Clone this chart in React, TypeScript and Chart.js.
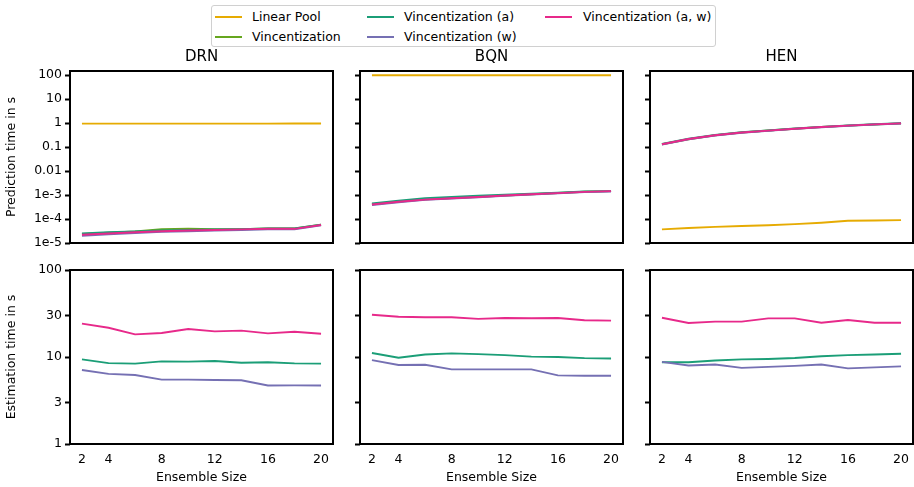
import React, { useEffect, useRef } from "react";
import { Chart, registerables } from "chart.js";

Chart.register(...registerables);
Chart.defaults.font.family = "'DejaVu Sans', sans-serif";
Chart.defaults.font.size = 12.5;
Chart.defaults.color = "#000";

// ---- data ----
const ensembleSizes = [2, 4, 6, 8, 10, 12, 14, 16, 18, 20];
const xTickValues = [2, 4, 8, 12, 16, 20];

const predTickValues = [1e-5, 1e-4, 1e-3, 0.01, 0.1, 1, 10, 100];
const predTickLabels = ["1e-5", "1e-4", "1e-3", "0.01", "0.1", "1", "10", "100"];
const estTickValues = [1, 3, 10, 30, 100];
const estTickLabels = ["1", "3", "10", "30", "100"];

const methodNames = [
  "Linear Pool",
  "Vincentization",
  "Vincentization (a)",
  "Vincentization (w)",
  "Vincentization (a, w)",
];
const methodColors = ["#E6AB02", "#66A61E", "#1B9E77", "#7570B3", "#E7298A"];

const modelNames = ["DRN", "BQN", "HEN"];

// prediction time in s
const drnPredLinearPool = [0.94, 0.94, 0.94, 0.94, 0.94, 0.94, 0.94, 0.94, 0.95, 0.95];
const drnPredVinc = [2.4e-5, 2.7e-5, 3.0e-5, 3.8e-5, 3.9e-5, 3.8e-5, 3.8e-5, 4.0e-5, 4.0e-5, 5.8e-5];
const drnPredVincA = [2.5e-5, 2.8e-5, 3.0e-5, 3.3e-5, 3.5e-5, 3.7e-5, 3.8e-5, 4.0e-5, 4.0e-5, 5.8e-5];
const drnPredVincW = [2.0e-5, 2.3e-5, 2.6e-5, 2.9e-5, 3.1e-5, 3.3e-5, 3.5e-5, 3.7e-5, 3.7e-5, 5.5e-5];
const drnPredVincAW = [2.2e-5, 2.5e-5, 2.8e-5, 3.1e-5, 3.3e-5, 3.5e-5, 3.7e-5, 3.9e-5, 3.9e-5, 5.6e-5];

const bqnPredLinearPool = [98, 98, 98, 98, 98, 98, 98, 98, 98, 98];
const bqnPredVinc = [4.1e-4, 5.3e-4, 6.6e-4, 7.4e-4, 8.4e-4, 9.6e-4, 1.08e-3, 1.21e-3, 1.36e-3, 1.45e-3];
const bqnPredVincA = [4.4e-4, 5.8e-4, 7.4e-4, 8.3e-4, 9.3e-4, 1.02e-3, 1.13e-3, 1.25e-3, 1.42e-3, 1.45e-3];
const bqnPredVincW = [3.8e-4, 5.0e-4, 6.3e-4, 7.1e-4, 8.1e-4, 9.3e-4, 1.05e-3, 1.18e-3, 1.32e-3, 1.4e-3];
const bqnPredVincAW = [4.0e-4, 5.2e-4, 6.4e-4, 7.3e-4, 8.3e-4, 9.5e-4, 1.07e-3, 1.2e-3, 1.35e-3, 1.45e-3];

const henPredLinearPool = [3.7e-5, 4.2e-5, 4.7e-5, 5.1e-5, 5.5e-5, 6.1e-5, 7.0e-5, 8.4e-5, 8.7e-5, 9.0e-5];
const henPredVinc = [0.13, 0.21, 0.31, 0.4, 0.49, 0.58, 0.68, 0.78, 0.87, 0.97];
const henPredVincA = [0.135, 0.22, 0.32, 0.41, 0.49, 0.59, 0.69, 0.79, 0.89, 0.98];
const henPredVincW = [0.125, 0.21, 0.3, 0.39, 0.47, 0.57, 0.67, 0.77, 0.87, 0.96];
const henPredVincAW = [0.13, 0.215, 0.31, 0.4, 0.48, 0.58, 0.68, 0.78, 0.88, 0.97];

// estimation time in s
const drnEstVincA = [9.4, 8.5, 8.4, 8.9, 8.85, 9.0, 8.6, 8.7, 8.45, 8.4];
const drnEstVincW = [7.1, 6.4, 6.2, 5.5, 5.5, 5.45, 5.4, 4.7, 4.72, 4.7];
const drnEstVincAW = [24.2, 21.7, 18.2, 18.9, 21.0, 19.7, 20.1, 18.7, 19.5, 18.5];

const bqnEstVincA = [11.1, 9.8, 10.7, 11.0, 10.8, 10.5, 10.1, 10.0, 9.7, 9.6];
const bqnEstVincW = [9.2, 8.1, 8.15, 7.2, 7.2, 7.2, 7.2, 6.15, 6.1, 6.1];
const bqnEstVincAW = [30.6, 29.0, 28.6, 28.6, 27.4, 28.1, 27.9, 28.1, 26.4, 26.2];

const henEstVincA = [8.7, 8.7, 9.1, 9.4, 9.5, 9.75, 10.2, 10.5, 10.7, 10.9];
const henEstVincW = [8.8, 8.0, 8.2, 7.5, 7.7, 7.9, 8.2, 7.4, 7.6, 7.8];
const henEstVincAW = [28.3, 24.6, 25.5, 25.5, 27.8, 27.8, 24.8, 26.6, 24.8, 24.8];

const predSeries = [
  [drnPredLinearPool, drnPredVinc, drnPredVincA, drnPredVincW, drnPredVincAW],
  [bqnPredLinearPool, bqnPredVinc, bqnPredVincA, bqnPredVincW, bqnPredVincAW],
  [henPredLinearPool, henPredVinc, henPredVincA, henPredVincW, henPredVincAW],
];
// Linear Pool and plain Vincentization have no estimation step
const estSeries = [
  [null, null, drnEstVincA, drnEstVincW, drnEstVincAW],
  [null, null, bqnEstVincA, bqnEstVincW, bqnEstVincAW],
  [null, null, henEstVincA, henEstVincW, henEstVincAW],
];

// ---- layout ----
const plotLefts = [70, 360, 650];
const plotWidth = 263;
const topRow = { top: 71, height: 172, padT: 23, padB: 12 };
const bottomRow = { top: 270, height: 174, padT: 12, padB: 43 };
const padRight = 8;

// black frame around each plot area
const frameBox = {
  id: "frameBox",
  afterDraw(chart: any) {
    const { ctx, chartArea: a } = chart;
    ctx.save();
    ctx.strokeStyle = "#000";
    ctx.lineWidth = 2;
    ctx.strokeRect(a.left, a.top, a.right - a.left, a.bottom - a.top);
    ctx.restore();
  },
};

type PanelProps = {
  col: number;
  row: { top: number; height: number; padT: number; padB: number };
  title?: string;
  series: (number[] | null)[];
  yMin: number;
  yMax: number;
  yTicks: number[];
  yLabels: string[];
  yTitle?: string;
  showX: boolean;
};

function Panel({ col, row, title, series, yMin, yMax, yTicks, yLabels, yTitle, showX }: PanelProps) {
  const ref = useRef<HTMLCanvasElement>(null);
  const padL = col === 0 ? plotLefts[0] : 12;
  const cw = padL + plotWidth + padRight;
  const ch = row.padT + row.height + row.padB;

  useEffect(() => {
    const datasets: any[] = [];
    series.forEach((vals, i) => {
      if (!vals) return;
      datasets.push({
        label: methodNames[i],
        data: ensembleSizes.map((x, k) => ({ x, y: vals[k] })),
        borderColor: methodColors[i],
        backgroundColor: methodColors[i],
        borderWidth: 1.9,
        pointRadius: 0,
        tension: 0,
        order: methodNames.length - 1 - i,
      });
    });

    const chart = new Chart(ref.current!, {
      type: "line",
      data: { datasets },
      plugins: [frameBox],
      options: {
        responsive: false,
        animation: false,
        events: [],
        layout: {
          padding: { left: 0, top: title ? 0 : row.padT, right: padRight, bottom: 0 },
        },
        plugins: {
          legend: { display: false },
          tooltip: { enabled: false },
          title: {
            display: !!title,
            text: title || "",
            fullSize: false,
            color: "#000",
            font: { size: 15, weight: "normal" as any, lineHeight: 1.2 },
            padding: { top: row.padT - 18 - 5, bottom: 5 },
          },
        },
        scales: {
          x: {
            type: "linear",
            min: 1.1,
            max: 20.9,
            afterBuildTicks: (s: any) => {
              s.ticks = xTickValues.map((v) => ({ value: v }));
            },
            afterFit: (s: any) => {
              s.height = row.padB;
            },
            grid: { display: false, drawTicks: false },
            border: { display: false },
            ticks: {
              display: showX,
              padding: 8,
              maxRotation: 0,
              autoSkip: false,
              color: "#000",
            },
            title: {
              display: showX,
              text: "Ensemble Size",
              color: "#000",
              padding: { top: 0, bottom: 2 },
            },
          },
          y: {
            type: "logarithmic",
            min: yMin,
            max: yMax,
            afterBuildTicks: (s: any) => {
              s.ticks = yTicks.map((v) => ({ value: v }));
            },
            afterFit: (s: any) => {
              s.width = padL;
            },
            grid: {
              display: true,
              drawOnChartArea: false,
              drawTicks: true,
              tickLength: 5,
              tickWidth: 2,
              tickColor: "#000",
            },
            border: { display: false },
            ticks: {
              display: col === 0,
              padding: 3,
              autoSkip: false,
              color: "#000",
              callback: (v: any) => {
                const idx = yTicks.indexOf(Number(v));
                return idx >= 0 ? yLabels[idx] : "";
              },
            },
            title: {
              display: !!yTitle,
              text: yTitle || "",
              color: "#000",
              padding: { top: 4, bottom: 0 },
            },
          },
        },
      } as any,
    });
    return () => chart.destroy();
  }, []);

  return (
    <canvas
      ref={ref}
      width={cw}
      height={ch}
      style={{
        position: "absolute",
        left: plotLefts[col] - padL,
        top: row.top - row.padT,
        width: cw,
        height: ch,
      }}
    />
  );
}

// legend, arranged column by column
const legendColumns = [[0, 1], [2, 3], [4]];
const legendHandleX = [215, 367, 545];
const legendTextX = [252, 404, 583];
const legendRowY = [16.5, 37];

function Legend() {
  const items: React.ReactNode[] = [];
  legendColumns.forEach((colItems, c) => {
    colItems.forEach((m, r) => {
      items.push(
        <div
          key={"h" + m}
          style={{
            position: "absolute",
            left: legendHandleX[c],
            top: legendRowY[r] - 1,
            width: 27,
            height: 2,
            background: methodColors[m],
          }}
        />
      );
      items.push(
        <div
          key={"t" + m}
          style={{
            position: "absolute",
            left: legendTextX[c],
            top: legendRowY[r] - 8,
            height: 16,
            lineHeight: "16px",
            fontSize: 12.5,
            whiteSpace: "nowrap",
            color: "#000",
          }}
        >
          {methodNames[m]}
        </div>
      );
    });
  });
  return (
    <>
      <div
        style={{
          position: "absolute",
          left: 211,
          top: 5,
          width: 505,
          height: 42,
          border: "1px solid #d0d0d0",
          borderRadius: 3,
          background: "#fff",
          boxSizing: "border-box",
        }}
      />
      {items}
    </>
  );
}

export default function App() {
  return (
    <div
      style={{
        position: "absolute",
        left: 0,
        top: 0,
        width: 914,
        height: 487,
        overflow: "hidden",
        background: "#fff",
        fontFamily: "'DejaVu Sans', sans-serif",
      }}
    >
      <Legend />
      {modelNames.map((name, c) => (
        <Panel
          key={"p" + c}
          col={c}
          row={topRow}
          title={name}
          series={predSeries[c]}
          yMin={1e-5}
          yMax={147}
          yTicks={predTickValues}
          yLabels={predTickLabels}
          yTitle={c === 0 ? "Prediction time in s" : undefined}
          showX={false}
        />
      ))}
      {modelNames.map((name, c) => (
        <Panel
          key={"e" + c}
          col={c}
          row={bottomRow}
          series={estSeries[c]}
          yMin={1}
          yMax={100}
          yTicks={estTickValues}
          yLabels={estTickLabels}
          yTitle={c === 0 ? "Estimation time in s" : undefined}
          showX={true}
        />
      ))}
    </div>
  );
}
